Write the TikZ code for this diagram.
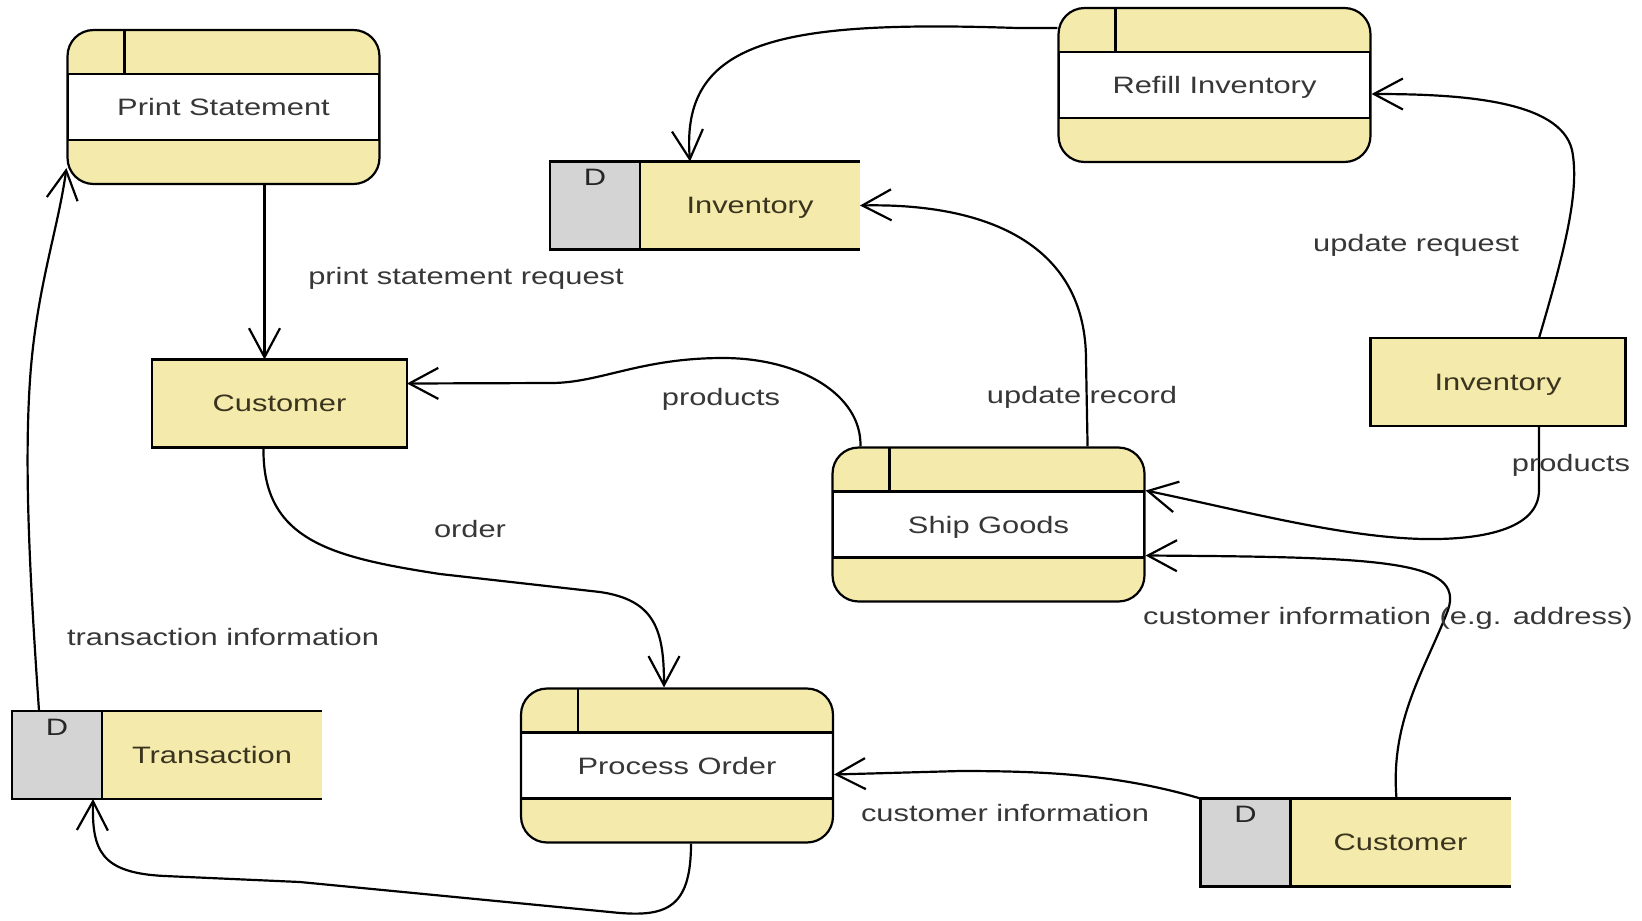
\documentclass[tikz,border=0pt]{standalone}
\usepackage{fontspec}
\setmainfont{Liberation Sans}[FakeStretch=1.3]
\usetikzlibrary{arrows.meta,positioning,calc}
\definecolor{dfdyellow}{RGB}{243,234,172}
\definecolor{dfdgray}{RGB}{212,212,212}
\definecolor{dfdtext}{RGB}{55,55,55}
\definecolor{dfdolive}{RGB}{58,52,30}
\begin{document}
\begin{tikzpicture}[x=0.02cm,y=-0.02cm,line width=1.25pt,font=\fontsize{13.5pt}{16pt}\selectfont,
	proc/.style={draw,fill=dfdyellow,rounded corners=0.52cm,minimum width=6.24cm,minimum height=3.08cm,text=dfdtext,text depth=0pt,
		path picture={
			\draw[sharp corners,fill=white] ([yshift=0.66cm]path picture bounding box.west) rectangle ([yshift=-0.66cm]path picture bounding box.east);
			\draw[sharp corners] ([xshift=1.14cm]path picture bounding box.north west) -- ([xshift=1.14cm,yshift=-0.88cm]path picture bounding box.north west);
		}},
	ent/.style={draw,fill=dfdyellow,minimum width=5.1cm,minimum height=1.76cm,text=dfdolive,text depth=0pt,outer sep=0pt},
	store/.style={fill=dfdyellow,minimum width=4.4cm,minimum height=1.76cm,text=dfdolive,text depth=0pt,outer sep=0pt},
	dcell/.style={draw,fill=dfdgray,minimum width=1.8cm,minimum height=1.76cm,outer sep=0pt,
		label={[anchor=north,inner sep=0.14cm,text=black!85]north:D}},
	flow/.style={-{Straight Barb[length=0.58cm,width=0.62cm]}},
	lbl/.style={text=dfdtext,text height=1.6ex,text depth=0.45ex,inner sep=0pt}]
	\path[use as bounding box,fill=white] (0,0) rectangle (1642,920);

	\node[proc] (ps) at (223.5,107) {Print Statement};
	\node[proc] (ri) at (1214.5,85) {Refill Inventory};
	\node[proc] (sg) at (988.5,524.5) {Ship Goods};
	\node[proc] (po) at (677,765.5) {Process Order};
	\node[ent] (cu) at (279.5,403.5) {Customer};
	\node[ent] (inv) at (1498,382) {Inventory};

	\node[store] (dsinv) at (750,205.5) {Inventory};
	\node[dcell,left=0pt of dsinv] (dsinv-D) {};
	\draw (dsinv-D.north east) -- (dsinv.north east);
	\draw (dsinv-D.south east) -- (dsinv.south east);
	\node[store] (dstr) at (212,755) {Transaction};
	\node[dcell,left=0pt of dstr] (dstr-D) {};
	\draw (dstr-D.north east) -- (dstr.north east);
	\draw (dstr-D.south east) -- (dstr.south east);
	\node[store] (dscu) at (1400.5,842.5) {Customer};
	\node[dcell,left=0pt of dscu] (dscu-D) {};
	\draw (dscu-D.north east) -- (dscu.north east);
	\draw (dscu-D.south east) -- (dscu.south east);

	\draw[flow] ($(ps.south)+(41,0)$) -- ($(cu.north)+(-15,0)$);
	\draw[flow] ($(cu.south)+(-16,0)$) .. controls (262,540) and (330,557) .. (440,574) -- (600,592) .. controls (655,600) and (664,630) .. ($(po.north)+(-13,0)$);
	\draw[flow] ($(dstr-D.north)+(-18,0)$) .. controls (30,580) and (24,470) .. (30,380) .. controls (36,290) and (58,230) .. ($(ps.south west)+(0,-17)$);
	\draw[flow] ($(po.south)+(14,0)$) .. controls (691,910) and (665,918) .. (610,912) -- (300,882) -- (165,876) .. controls (100,873) and (92,850) .. ($(dstr-D.south east)+(-9,0)$);
	\draw[flow] ($(ri.west)+(0,-57)$) -- (1017,28) .. controls (780,20) and (680,40) .. ($(dsinv.north west)+(50,0)$);
	\draw[flow] ($(sg.north east)+(-58,0)$) -- (1086,360) .. controls (1086,240) and (980,203) .. (dsinv.east);
	\draw[flow] ($(sg.north west)+(29,0)$) .. controls (862,395) and (800,358) .. (723,358) .. controls (640,358) and (600,383) .. (551,383) -- ($(cu.east)+(0,-20)$);
	\draw[flow] ($(inv.north)+(41,0)$) .. controls (1565,250) and (1580,190) .. (1572,150) .. controls (1560,100) and (1460,94) .. ($(ri.east)+(0,9)$);
	\draw[flow] ($(inv.south)+(41,0)$) -- (1539,490) .. controls (1539,530) and (1480,540) .. (1423,539) .. controls (1340,537) and (1240,510) .. ($(sg.east)+(0,-34)$);
	\draw[flow] ($(dscu.north)+(-4,0)$) .. controls (1390,720) and (1425,670) .. (1448,610) .. controls (1465,560) and (1380,557) .. ($(sg.east)+(0,31)$);
	\draw[flow] (dscu-D.north west) .. controls (1120,775) and (1050,771) .. (960,771) -- ($(po.east)+(0,9)$);

	\node[lbl] (l-psr) at (466,279) {print statement request};
	\node[lbl] (l-prod1) at (721,400) {products};
	\node[lbl] (l-upd) at (1082,398) {update record};
	\node[lbl] (l-ureq) at (1416,246) {update request};
	\node[lbl] (l-prod2) at (1571,466) {products};
	\node[lbl] (l-order) at (470,532) {order};
	\node[lbl] (l-trans) at (223,640) {transaction information};
	\node[lbl] (l-addr) at (1388,619) {customer information (e.g. address)};
	\node[lbl] (l-cinfo) at (1005,816) {customer information};
\end{tikzpicture}
\end{document}
